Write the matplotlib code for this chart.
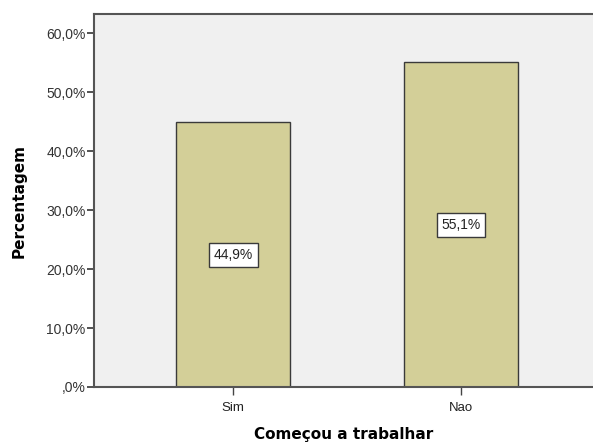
import matplotlib
matplotlib.use("Agg")
import matplotlib.pyplot as plt

categories = ["Sim", "Nao"]
values = [44.9, 55.1]
value_labels = ["44,9%", "55,1%"]
yticks = [0, 10, 20, 30, 40, 50, 60]
ytick_labels = [",0%", "10,0%", "20,0%", "30,0%", "40,0%", "50,0%", "60,0%"]

fig = plt.figure(figsize=(5.93, 4.47), dpi=100)
ax = fig.add_axes([94 / 593, 60 / 447, 499 / 593, 373 / 447])
ax.set_facecolor("#F0F0F0")

x = list(range(len(categories)))
ax.bar(x, values, width=0.5, color="#D3CF98", edgecolor="#3A3A3A", linewidth=1.0, zorder=2)

for xi, v, lab in zip(x, values, value_labels):
    ax.text(xi, v / 2, lab, ha="center", va="center", fontsize=10,
            family="Liberation Sans", color="#222222", zorder=3,
            bbox=dict(boxstyle="square,pad=0.35", facecolor="white", edgecolor="#3A3A3A", linewidth=1.0))

ax.set_xlim(-0.61, 1.579)
ax.set_ylim(0, 63.3)
ax.set_yticks(yticks)
ax.set_yticklabels(ytick_labels, family="Liberation Sans", fontsize=10, color="#333333")
ax.set_xticks(x)
ax.set_xticklabels(categories, family="Liberation Sans", fontsize=9.5, color="#222222")
ax.tick_params(axis="y", direction="out", length=5, width=1.3, color="#444444", pad=1)
ax.tick_params(axis="x", direction="out", length=6, width=1.0, color="#444444", pad=5)

for side in ["left", "bottom", "top"]:
    ax.spines[side].set_color("#555555")
    ax.spines[side].set_linewidth(1.5)
ax.spines["right"].set_visible(False)

ax.set_xlabel("Começou a trabalhar", fontsize=11, fontweight="bold", family="DejaVu Sans", labelpad=9)
ax.set_ylabel("Percentagem", fontsize=11, fontweight="bold", family="DejaVu Sans", labelpad=14)

fig.savefig("out.png", dpi=100)
